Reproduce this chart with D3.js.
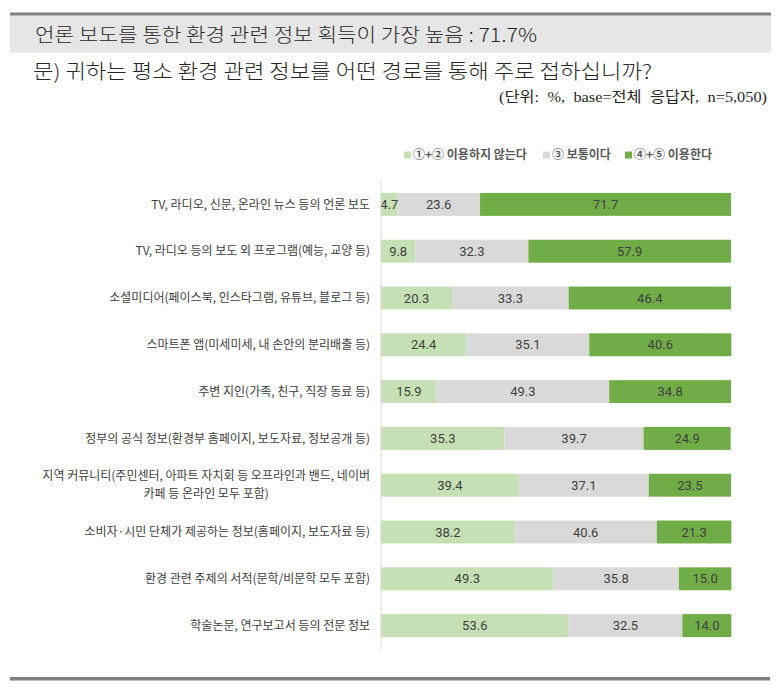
<!DOCTYPE html>
<html><head><meta charset="utf-8">
<script src="https://cdn.jsdelivr.net/npm/d3@7"></script>
<style>
body{margin:0;background:#fff;}
svg{display:block;}
text{font-family:"Noto Sans CJK KR","Noto Sans",sans-serif;}
</style></head>
<body>
<svg id="chart" width="780" height="688"></svg>
<script>
const categories = [
  ["TV, 라디오, 신문, 온라인 뉴스 등의 언론 보도"],
  ["TV, 라디오 등의 보도 외 프로그램(예능, 교양 등)"],
  ["소셜미디어(페이스북, 인스타그램, 유튜브, 블로그 등)"],
  ["스마트폰 앱(미세미세, 내 손안의 분리배출 등)"],
  ["주변 지인(가족, 친구, 직장 동료 등)"],
  ["정부의 공식 정보(환경부 홈페이지, 보도자료, 정보공개 등)"],
  ["지역 커뮤니티(주민센터, 아파트 자치회 등 오프라인과 밴드, 네이버", "카페 등 온라인 모두 포함)"],
  ["소비자·시민 단체가 제공하는 정보(홈페이지, 보도자료 등)"],
  ["환경 관련 주제의 서적(문학/비문학 모두 포함)"],
  ["학술논문, 연구보고서 등의 전문 정보"]
];
const notUse = [4.7, 9.8, 20.3, 24.4, 15.9, 35.3, 39.4, 38.2, 49.3, 53.6];
const neutral = [23.6, 32.3, 33.3, 35.1, 49.3, 39.7, 37.1, 40.6, 35.8, 32.5];
const use = [71.7, 57.9, 46.4, 40.6, 34.8, 24.9, 23.5, 21.3, 15.0, 14.0];
const seriesNames = ["①+② 이용하지 않는다", "③ 보통이다", "④+⑤ 이용한다"];
const seriesColors = ["#c5e0b4", "#d9d9d9", "#70ad47"];
const headline = "언론 보도를 통한 환경 관련 정보 획득이 가장 높음 : 71.7%";
const question = "문) 귀하는 평소 환경 관련 정보를 어떤 경로를 통해 주로 접하십니까?";
const unitNote = "(단위: %, base=전체 응답자, n=5,050)";

const svg = d3.select("#chart");

// header
svg.append("rect").attr("x",10).attr("y",12.5).attr("width",761).attr("height",3.2).attr("fill","#7f7f7f");
svg.append("rect").attr("x",10).attr("y",15.7).attr("width",761).attr("height",37).attr("fill","#e7e6e6");
svg.append("text").attr("x",35).attr("y",42).attr("font-size",19).attr("font-weight",300).attr("fill","#262626")
  .attr("textLength",502).attr("lengthAdjust","spacingAndGlyphs").text(headline);
svg.append("text").attr("x",33).attr("y",79).attr("font-size",20).attr("font-weight",300).attr("fill","#262626")
  .attr("textLength",619).attr("lengthAdjust","spacingAndGlyphs").text(question);
svg.append("text").attr("x",499).attr("y",102).attr("font-size",15).attr("fill","#262626")
  .attr("word-spacing",4)
  .attr("textLength",268).attr("lengthAdjust","spacingAndGlyphs")
  .style("font-family","'Liberation Serif','Noto Sans CJK KR',serif").text(unitNote);
svg.append("rect").attr("x",10).attr("y",677).attr("width",760).attr("height",3.5).attr("fill","#7f7f7f");

// scales
const idx = d3.range(categories.length);
const y = d3.scaleBand().domain(idx).range([181, 649]).paddingInner(0.51).paddingOuter(0.255);
const x = d3.scaleLinear().domain([0, 100]).range([381, 731]);

const rows = idx.map(i => {
  const vals = [notUse[i], neutral[i], use[i]];
  let acc = 0;
  return vals.map((v, k) => { const s = {i, k, v, x0: acc, x1: acc + v}; acc += v; return s; });
}).flat();

svg.append("g").selectAll("rect").data(rows).join("rect")
  .attr("x", d => x(d.x0)).attr("y", d => y(d.i))
  .attr("width", d => x(d.x1) - x(d.x0)).attr("height", y.bandwidth())
  .attr("fill", d => seriesColors[d.k]);

svg.append("g").selectAll("text").data(rows).join("text")
  .attr("x", d => (x(d.x0) + x(d.x1)) / 2).attr("y", d => y(d.i) + y.bandwidth()/2)
  .attr("dy","0.36em").attr("text-anchor","middle").attr("font-size",13)
  .style("font-family","Roboto,'Noto Sans',sans-serif")
  .attr("fill","#404040").text(d => d.v.toFixed(1));

// axis line
svg.append("line").attr("x1",381).attr("x2",381).attr("y1",181).attr("y2",650)
  .attr("stroke","#d9d9d9").attr("stroke-width",1);

// category labels
const lab = svg.append("g").selectAll("g").data(idx).join("g");
lab.each(function(i){
  const g = d3.select(this);
  const lines = categories[i];
  const cy = y(i) + y.bandwidth()/2;
  if (lines.length === 1) {
    g.append("text").attr("x",370).attr("y",cy).attr("dy","0.35em")
      .attr("text-anchor","end").attr("font-size",12)
      .attr("fill","#404040").text(lines[0]);
  } else {
    const t1 = g.append("text").attr("x",370).attr("y",cy-9).attr("dy","0.35em")
      .attr("text-anchor","end").attr("font-size",12)
      .attr("fill","#404040").text(lines[0]);
    const w = t1.node().getComputedTextLength();
    g.append("text").attr("x",370 - w/2).attr("y",cy+9).attr("dy","0.35em")
      .attr("text-anchor","middle").attr("font-size",12)
      .attr("fill","#404040").text(lines[1]);
  }
});

// legend
const legendX = [404, 543, 625];
const lg = svg.append("g").selectAll("g").data(seriesNames).join("g")
  .attr("transform",(d,k)=>`translate(${legendX[k]},155)`);
lg.append("rect").attr("x",0).attr("y",-3.5).attr("width",7).attr("height",7)
  .attr("fill",(d,k)=>seriesColors[k]);
lg.append("text").attr("x",9).attr("y",0).attr("dy","0.35em").attr("font-size",12)
  .attr("font-weight",600).attr("fill","#595959").text(d=>d);
</script>
</body></html>
